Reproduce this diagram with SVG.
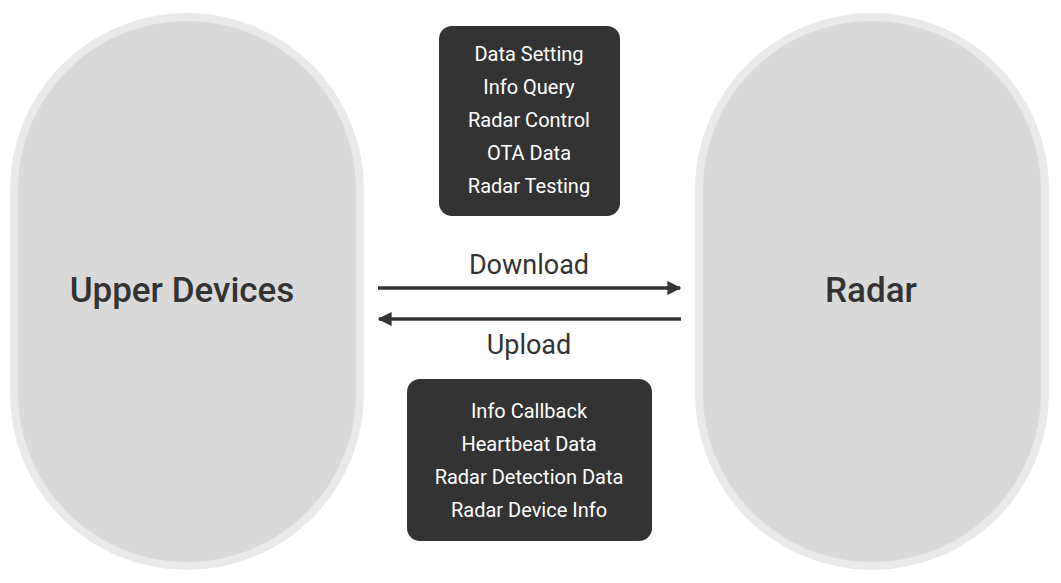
<svg xmlns="http://www.w3.org/2000/svg" width="1061" height="583" viewBox="0 0 1061 583">
<style>
.pill{fill:#d9d9d9;stroke:#e9e9e9;stroke-width:8}
.box{fill:#333333}
.bt{fill:#ffffff;font-family:"Roboto","Liberation Sans",sans-serif;font-size:20px;text-anchor:middle;dominant-baseline:central}
.big{fill:#333333;font-family:"Roboto","Liberation Sans",sans-serif;font-size:35px;font-weight:500;text-anchor:middle;dominant-baseline:central}
.lbl{fill:#333333;font-family:"Roboto","Liberation Sans",sans-serif;font-size:27px;text-anchor:middle;dominant-baseline:central}
.ln{stroke:#333333;stroke-width:3.5;fill:none}
</style>
<defs><marker id="ah" viewBox="0 0 10 10" refX="9" refY="5" markerWidth="4" markerHeight="4" orient="auto"><path d="M0,0L10,5L0,10z" fill="#333333"/></marker></defs>
<rect width="1061" height="583" fill="#ffffff"/>
<g id="upper"><rect class="pill" x="14" y="17" width="346" height="549" rx="173"/><text class="big" x="182" y="290">Upper Devices</text></g>
<g id="radar"><rect class="pill" x="699" y="17" width="346" height="549" rx="173"/><text class="big" x="871" y="290">Radar</text></g>
<g id="down-box"><rect class="box" x="439" y="26" width="181" height="190" rx="13"/>
<text class="bt" x="529" y="54">Data Setting</text><text class="bt" x="529" y="87">Info Query</text><text class="bt" x="529" y="120">Radar Control</text><text class="bt" x="529" y="153">OTA Data</text><text class="bt" x="529" y="186">Radar Testing</text></g>
<g id="up-box"><rect class="box" x="407" y="379" width="245" height="162" rx="13"/>
<text class="bt" x="529" y="411">Info Callback</text><text class="bt" x="529" y="444">Heartbeat Data</text><text class="bt" x="529" y="477">Radar Detection Data</text><text class="bt" x="529" y="510">Radar Device Info</text></g>
<g id="connectors">
<line class="ln" x1="378" y1="288" x2="680" y2="288" marker-end="url(#ah)"/>
<line class="ln" x1="681" y1="319" x2="379" y2="319" marker-end="url(#ah)"/>
<text class="lbl" x="529" y="265">Download</text>
<text class="lbl" x="529" y="345">Upload</text>
</g>
</svg>
